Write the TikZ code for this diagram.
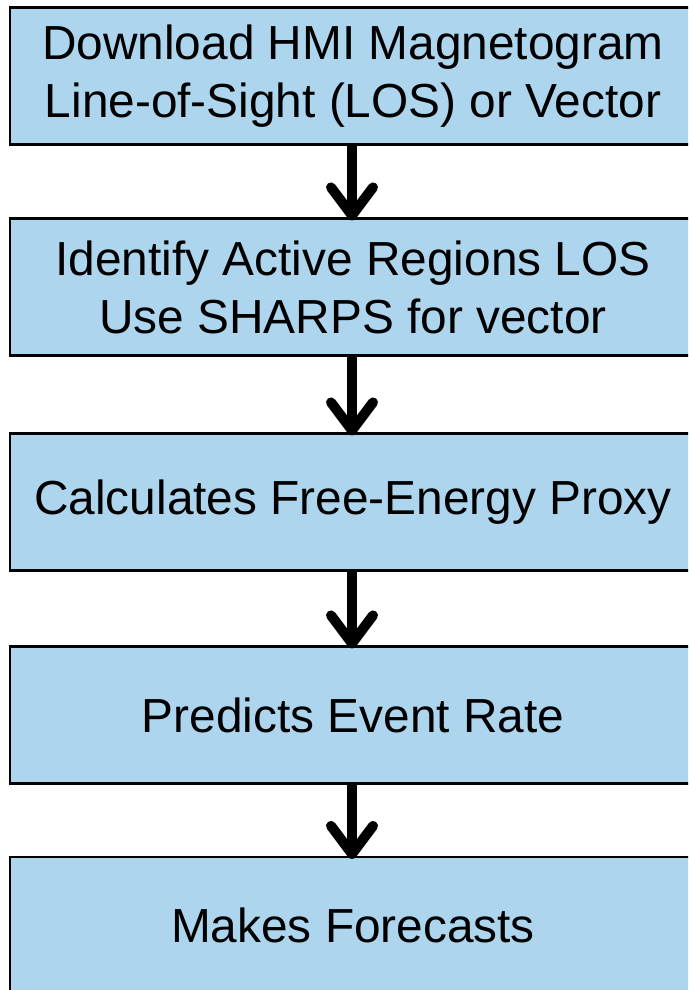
\documentclass[tikz,border=0pt]{standalone}
\usepackage{fontspec}
\setmainfont{Liberation Sans}
\usetikzlibrary{arrows.meta}
\definecolor{boxblue}{RGB}{173,213,238}
\begin{document}
\begin{tikzpicture}[x=1pt,y=-1pt,
  stepbox/.style={draw=black, line width=2.2pt, fill=boxblue, rectangle,
    minimum width=686pt, minimum height=137pt, inner sep=0pt,
    align=center, font=\fontsize{47.8}{58}\selectfont},
  conn/.style={line width=10pt, -{Straight Barb[length=28pt,width=42pt,round]}}]
\useasboundingbox (0,0) rectangle (688,990);
\begin{scope}
\clip (0,0) rectangle (688,990);
\node[stepbox] (b1) at (353,76) {Download HMI Magnetogram\\Line-of-Sight (LOS) or Vector};
\node[stepbox] (b2) at (353,287) {Identify Active Regions LOS\\Use SHARPS for vector};
\node[stepbox] (b3) at (353,502) {Calculates Free-Energy Proxy};
\node[stepbox] (b4) at (353,715) {Predicts Event Rate};
\node[stepbox] (b5) at (353,925.5) {Makes Forecasts};
\end{scope}
\foreach \a/\b in {b1/b2,b2/b3,b3/b4,b4/b5}{
  \draw[conn] ([xshift=-1pt]\a.south) -- ([xshift=-1pt,yshift=-3pt]\b.north);
}
\end{tikzpicture}
\end{document}
